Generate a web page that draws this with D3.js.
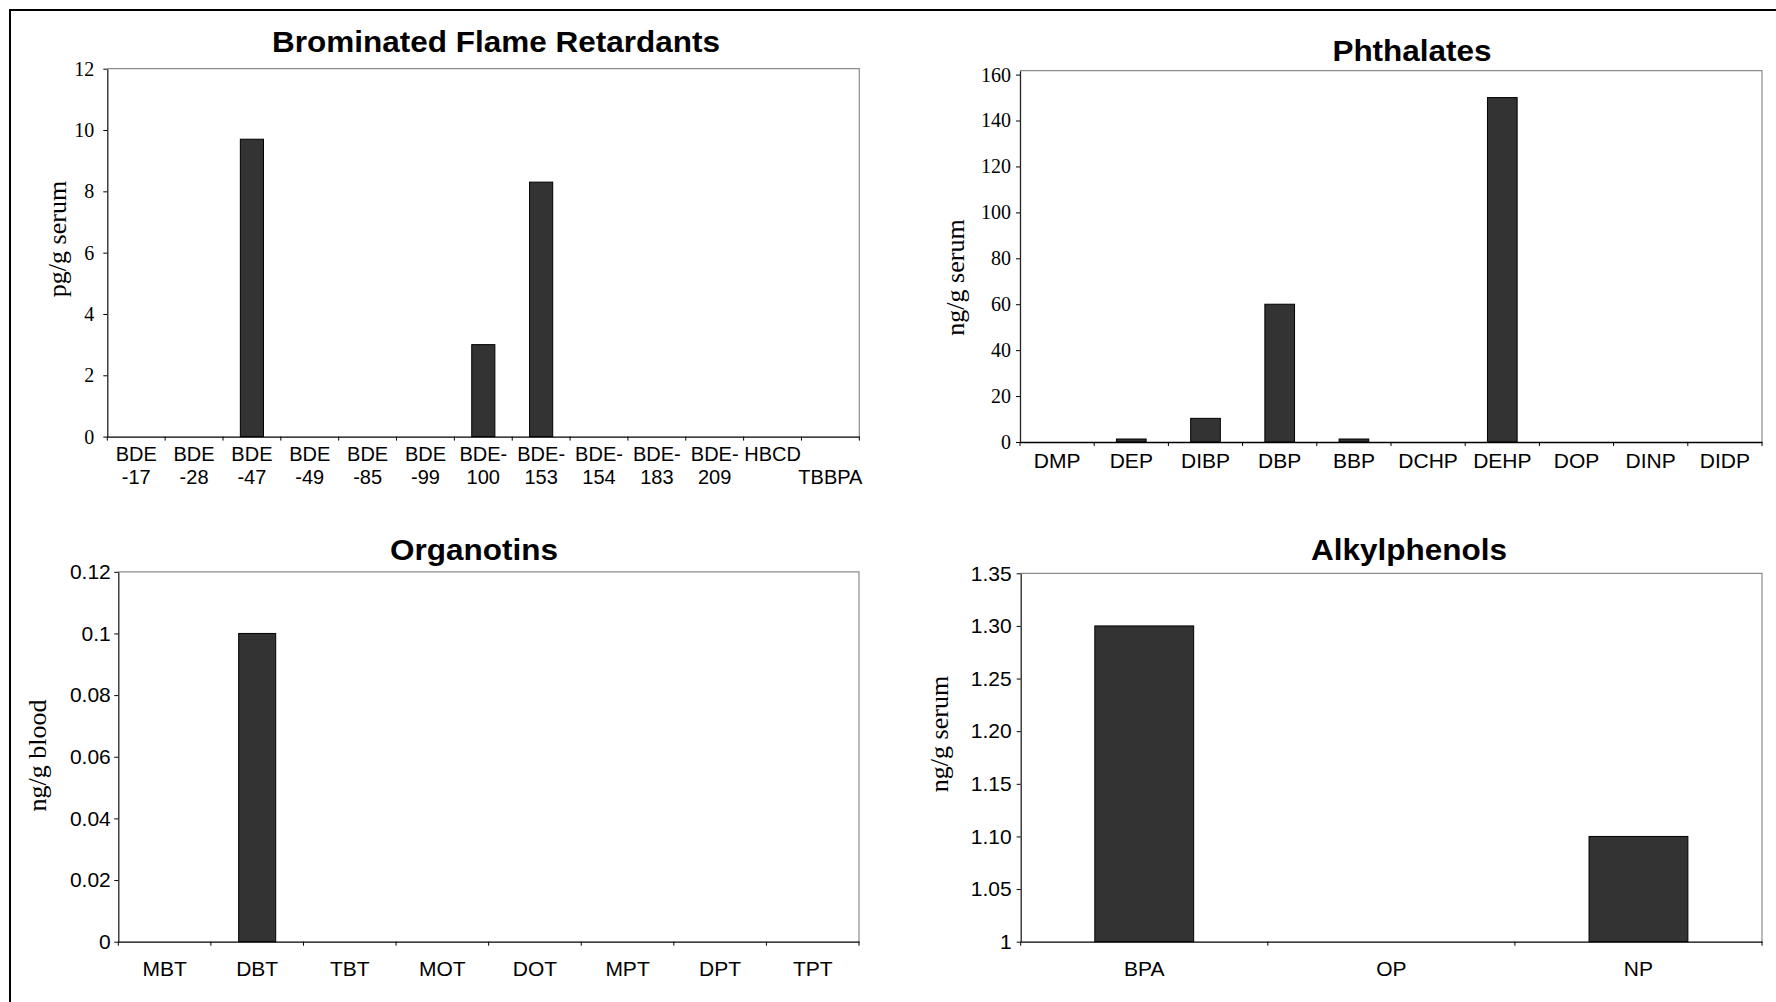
<!DOCTYPE html>
<html>
<head>
<meta charset="utf-8">
<script src="https://cdn.jsdelivr.net/npm/d3@7"></script>
<style>
  html, body { margin: 0; padding: 0; background: #fff; }
  svg { display: block; }
</style>
</head>
<body>
<svg id="fig" width="1776" height="1002"></svg>
<script>
// ---- Brominated flame retardants (pg/g serum) ----
const bfrCategories = ["BDE -17", "BDE -28", "BDE -47", "BDE -49", "BDE -85", "BDE -99",
  "BDE-100", "BDE-153", "BDE-154", "BDE-183", "BDE-209", "HBCD", "TBBPA"];
const bfrTickLines = [["BDE", "-17"], ["BDE", "-28"], ["BDE", "-47"], ["BDE", "-49"],
  ["BDE", "-85"], ["BDE", "-99"], ["BDE-", "100"], ["BDE-", "153"], ["BDE-", "154"],
  ["BDE-", "183"], ["BDE-", "209"], ["HBCD", ""], ["", "TBBPA"]];
const bfrValues = [0, 0, 9.7, 0, 0, 0, 3.0, 8.3, 0, 0, 0, 0, 0];
const bfrTicks = [0, 2, 4, 6, 8, 10, 12];
const bfrTickLabels = ["0", "2", "4", "6", "8", "10", "12"];

// ---- Phthalates (ng/g serum) ----
const phthCategories = ["DMP", "DEP", "DIBP", "DBP", "BBP", "DCHP", "DEHP", "DOP", "DINP", "DIDP"];
const phthValues = [0, 1.3, 10.3, 60, 1.3, 0, 150, 0, 0, 0];
const phthTicks = [0, 20, 40, 60, 80, 100, 120, 140, 160];
const phthTickLabels = ["0", "20", "40", "60", "80", "100", "120", "140", "160"];

// ---- Organotins (ng/g blood) ----
const orgCategories = ["MBT", "DBT", "TBT", "MOT", "DOT", "MPT", "DPT", "TPT"];
const orgValues = [0, 0.1, 0, 0, 0, 0, 0, 0];
const orgTicks = [0, 0.02, 0.04, 0.06, 0.08, 0.1, 0.12];
const orgTickLabels = ["0", "0.02", "0.04", "0.06", "0.08", "0.1", "0.12"];

// ---- Alkylphenols (ng/g serum) ----
const alkCategories = ["BPA", "OP", "NP"];
const alkValues = [1.30, 1.00, 1.10];
const alkTicks = [1, 1.05, 1.10, 1.15, 1.20, 1.25, 1.30, 1.35];
const alkTickLabels = ["1", "1.05", "1.10", "1.15", "1.20", "1.25", "1.30", "1.35"];

const SANS = "'Liberation Sans', Arial, sans-serif";
const SERIF = "'Liberation Serif', 'Times New Roman', serif";

const svg = d3.select("#fig");

// outer frame (left and top edges)
svg.append("path")
  .attr("d", "M10,1002V10H1776")
  .attr("fill", "none")
  .attr("stroke", "#000")
  .attr("stroke-width", 2);

const panels = [
  {
    title: "Brominated Flame Retardants", titleX: 496, titleY: 51.5,
    categories: bfrCategories, values: bfrValues, lines: bfrTickLines,
    ticks: bfrTicks, tickLabels: bfrTickLabels, domain: [0, 12],
    x0: 107.3, x1: 859.3, yBase: 436.6, yTop: 68.7,
    tickFont: SERIF, tickSize: 20, tickPad: 9,
    xFont: 20, xLineOffsets: [24.6, 47.5],
    yTitle: "pg/g serum", yTitleX: 66, yTitleY: 239
  },
  {
    title: "Phthalates", titleX: 1412, titleY: 60.5,
    categories: phthCategories, values: phthValues,
    ticks: phthTicks, tickLabels: phthTickLabels, domain: [0, 161.7],
    x0: 1020, x1: 1762, yBase: 442, yTop: 70.7,
    tickFont: SERIF, tickSize: 20, tickPad: 5,
    xFont: 21, xLineOffsets: [25.5],
    yTitle: "ng/g serum", yTitleX: 963.5, yTitleY: 277.5
  },
  {
    title: "Organotins", titleX: 474, titleY: 559.5,
    categories: orgCategories, values: orgValues,
    ticks: orgTicks, tickLabels: orgTickLabels, domain: [0, 0.12],
    x0: 118.3, x1: 859, yBase: 941.7, yTop: 571.8,
    tickFont: SANS, tickSize: 21, tickPad: 3.5,
    xFont: 21, xLineOffsets: [34],
    yTitle: "ng/g blood", yTitleX: 46, yTitleY: 755.5
  },
  {
    title: "Alkylphenols", titleX: 1409, titleY: 559.5,
    categories: alkCategories, values: alkValues,
    ticks: alkTicks, tickLabels: alkTickLabels, domain: [1, 1.35],
    x0: 1020.7, x1: 1762, yBase: 941.7, yTop: 573.3,
    tickFont: SANS, tickSize: 21, tickPad: 5,
    xFont: 21, xLineOffsets: [34],
    yTitle: "ng/g serum", yTitleX: 948, yTitleY: 734
  }
];

function drawPanel(p) {
  const g = svg.append("g");

  const x = d3.scaleBand()
    .domain(p.categories)
    .range([p.x0, p.x1])
    .paddingInner(0.6)
    .paddingOuter(0.3);

  const y = d3.scaleLinear()
    .domain(p.domain)
    .range([p.yBase, p.yTop]);

  // plot-area border (top and right, light grey)
  g.append("path")
    .attr("d", `M${p.x0},${y(p.domain[1])}H${p.x1}V${y(p.domain[0])}`)
    .attr("fill", "none")
    .attr("stroke", "#8c8c8c")
    .attr("stroke-width", 1.2);

  // bars
  const rows = p.categories.map((c, i) => ({ c, v: p.values[i] }))
    .filter(d => d.v > p.domain[0]);
  g.selectAll("rect.bar")
    .data(rows)
    .join("rect")
    .attr("class", "bar")
    .attr("x", d => x(d.c))
    .attr("width", x.bandwidth())
    .attr("y", d => y(d.v))
    .attr("height", d => y(p.domain[0]) - y(d.v))
    .attr("fill", "#333333")
    .attr("stroke", "#000")
    .attr("stroke-width", 1);

  // y axis
  const yAxis = d3.axisLeft(y)
    .tickValues(p.ticks)
    .tickFormat((d, i) => p.tickLabels[i])
    .tickSize(4)
    .tickSizeOuter(0)
    .tickPadding(p.tickPad);
  const ya = g.append("g")
    .attr("transform", `translate(${p.x0},0)`)
    .call(yAxis);
  ya.select(".domain").attr("stroke", "#222").attr("stroke-width", 1.3);
  ya.selectAll(".tick line").attr("stroke", "#000");
  ya.selectAll(".tick text")
    .attr("fill", "#000")
    .style("font-family", p.tickFont)
    .style("font-size", p.tickSize + "px");

  // x axis: labels centred on each category
  const xAxis = d3.axisBottom(x).tickSize(0).tickSizeOuter(0).tickPadding(0);
  const xa = g.append("g")
    .attr("transform", `translate(0,${p.yBase})`)
    .call(xAxis);
  xa.select(".domain").attr("stroke", "#000").attr("stroke-width", 1.3);
  xa.selectAll(".tick text")
    .attr("fill", "#000")
    .style("font-family", SANS)
    .style("font-size", p.xFont + "px")
    .attr("y", null)
    .attr("dy", null)
    .each(function (d, i) {
      const t = d3.select(this);
      const lines = p.lines ? p.lines[i] : [d];
      t.text(null);
      lines.forEach((l, k) => {
        t.append("tspan").attr("x", 0).attr("y", p.xLineOffsets[k]).text(l);
      });
    });

  // x tick marks on the category boundaries
  const step = x.step();
  const bounds = d3.range(p.categories.length + 1).map(i =>
    i < p.categories.length ? x(p.categories[i]) - (step - x.bandwidth()) / 2 : p.x1);
  g.selectAll("line.xb")
    .data(bounds)
    .join("line")
    .attr("class", "xb")
    .attr("x1", d => d).attr("x2", d => d)
    .attr("y1", p.yBase).attr("y2", p.yBase + 4)
    .attr("stroke", "#000");

  // chart title
  g.append("text")
    .attr("transform", `translate(${p.titleX},${p.titleY}) scale(1.05,1)`)
    .attr("text-anchor", "middle")
    .style("font-family", SANS)
    .style("font-weight", "bold")
    .style("font-size", "30px")
    .attr("fill", "#000")
    .text(p.title);

  // y-axis title
  g.append("text")
    .attr("transform", `translate(${p.yTitleX},${p.yTitleY}) rotate(-90)`)
    .attr("text-anchor", "middle")
    .style("font-family", SERIF)
    .style("font-size", "26px")
    .attr("fill", "#000")
    .text(p.yTitle);
}

panels.forEach(drawPanel);
</script>
</body>
</html>
